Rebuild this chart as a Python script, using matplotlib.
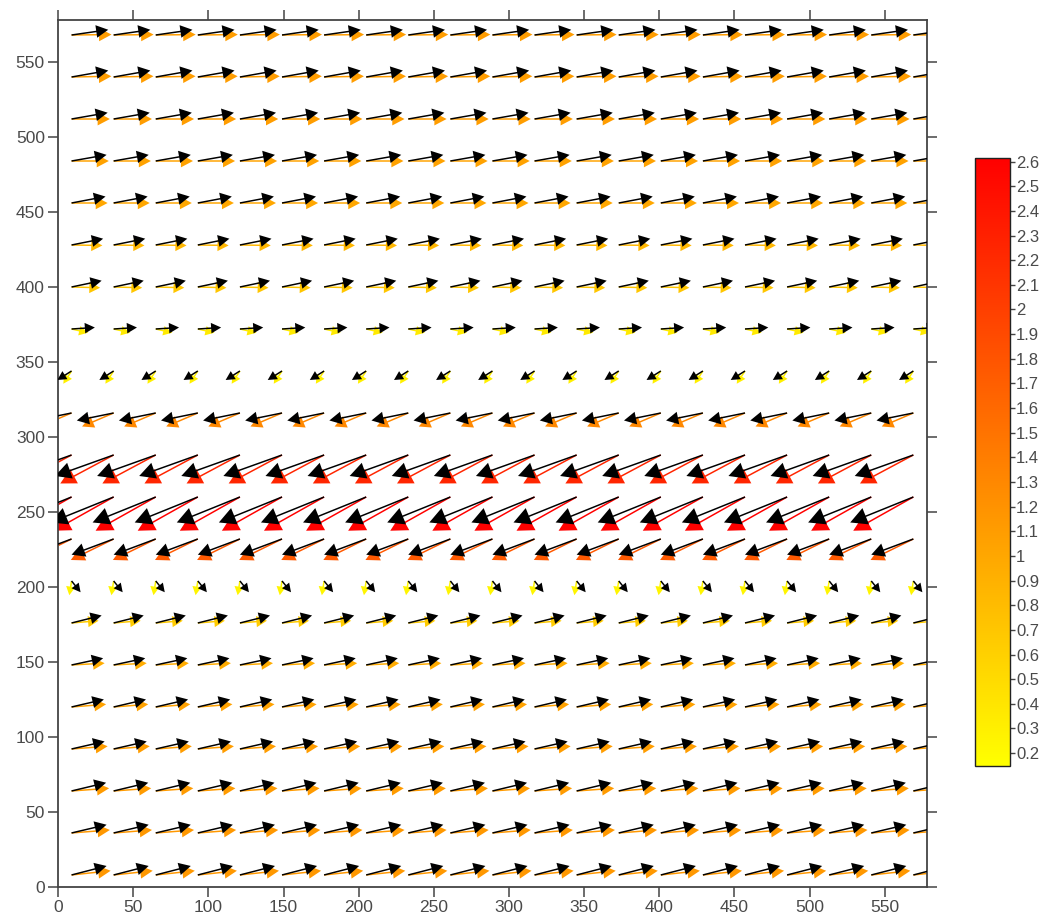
import numpy as np
import matplotlib
matplotlib.use("Agg")
import matplotlib.pyplot as plt
from matplotlib.colors import LinearSegmentedColormap, Normalize
from matplotlib.cm import ScalarMappable
from matplotlib.ticker import FuncFormatter

plt.rcParams['font.family'] = ['Liberation Sans', 'DejaVu Sans']

# ---------------- data ----------------
x_grid = [9 + 28 * i for i in range(21)]
row_y = [8 + 28 * j for j in range(21)]

# black vector field (per row, data units)
black_u = [23.3, 23.3, 23.0, 22.0, 21.5, 21.0, 20.0, 6.0, -28.0, -42.0, -39.0,
           -24.5, -9.5, 15.5, 20.0, 21.0, 22.6, 23.3, 24.0, 24.4, 24.4]
black_v = [6.0, 5.5, 5.5, 5.0, 5.0, 4.5, 5.0, -7.5, -10.5, -17.0, -14.0,
           -5.0, -6.0, 1.0, 4.2, 4.2, 4.3, 4.1, 4.2, 4.3, 3.5]
# coloured vector field (per row, data units)
col_u = [26.0, 25.5, 25.0, 24.0, 23.0, 22.0, 18.0, -1.5, -28.5, -40.0, -35.5,
         -21.0, -5.5, 11.0, 19.0, 20.5, 24.0, 24.8, 25.5, 26.5, 26.6]
col_v = [2.8, 2.0, 1.8, 1.8, 1.8, 1.2, 1.5, -9.5, -14.0, -22.5, -19.0,
         -9.0, -8.5, -2.5, -0.5, -0.3, 0.0, 0.0, 0.0, 0.5, 0.3]
col_mag = [1.15, 1.15, 1.12, 1.1, 1.05, 0.95, 0.65, 0.25, 1.75, 2.6, 2.25,
           1.3, 0.3, 0.35, 0.7, 0.85, 1.0, 1.05, 1.1, 1.1, 1.1]

cbar_ticks = [round(0.2 + 0.1 * k, 1) for k in range(25)]
cmin, cmax = 0.147, 2.616

# ---------------- figure ----------------
fig = plt.figure(figsize=(10.57, 9.22), dpi=100)
ax = fig.add_axes([0.0549, 0.038, 0.822, 0.9403])

cmap = LinearSegmentedColormap.from_list("yr", ["#ffff00", "#ff0000"])
norm = Normalize(vmin=cmin, vmax=cmax)

X = np.array(x_grid, dtype=float)
px_per_unit = 1.503
shaft = 1.5

def head_params(u, v):
    L = np.hypot(u, v) * px_per_unit
    hl = 6.5 + 0.15 * L
    return dict(headlength=hl / shaft, headaxislength=hl / shaft,
                headwidth=1.05 * hl / shaft)

for j, y in enumerate(row_y):
    Y = np.full_like(X, y)
    # coloured
    U = np.full_like(X, col_u[j]); V = np.full_like(X, col_v[j])
    C = np.full_like(X, col_mag[j])
    ax.quiver(X, Y, U, V, C, cmap=cmap, norm=norm, angles='xy',
              scale_units='xy', scale=1, units='dots', width=shaft,
              minshaft=0.4, linewidth=0, zorder=2, **head_params(col_u[j], col_v[j]))
    # black
    U = np.full_like(X, black_u[j]); V = np.full_like(X, black_v[j])
    ax.quiver(X, Y, U, V, color='black', angles='xy',
              scale_units='xy', scale=1, units='dots', width=shaft,
              minshaft=0.4, linewidth=0, zorder=3, **head_params(black_u[j], black_v[j]))

ax.set_xlim(0, 578)
ax.set_ylim(0, 578)
ax.set_xticks(range(0, 551, 50))
ax.set_yticks(range(0, 551, 50))
ax.tick_params(direction='out', top=True, right=True, labeltop=False,
               labelright=False, length=7.5, width=1.1, color='#444444',
               labelcolor='#4a4a4a', labelsize=12.5, pad=2)
for s in ax.spines.values():
    s.set_color('#444444')
    s.set_linewidth(1.3)

# colourbar
cax = fig.add_axes([0.9224, 0.169, 0.0331, 0.660])
cb = fig.colorbar(ScalarMappable(norm=norm, cmap=cmap), cax=cax)
cb.set_ticks(cbar_ticks)
cb.ax.yaxis.set_major_formatter(FuncFormatter(lambda v, p: f"{v:g}"))
cb.ax.tick_params(direction='out', length=3.5, width=1, color='#444444',
                  labelcolor='#4a4a4a', labelsize=12, pad=1)
cb.outline.set_edgecolor('#222222')
cb.outline.set_linewidth(1.0)

fig.savefig("out.png", dpi=100)
